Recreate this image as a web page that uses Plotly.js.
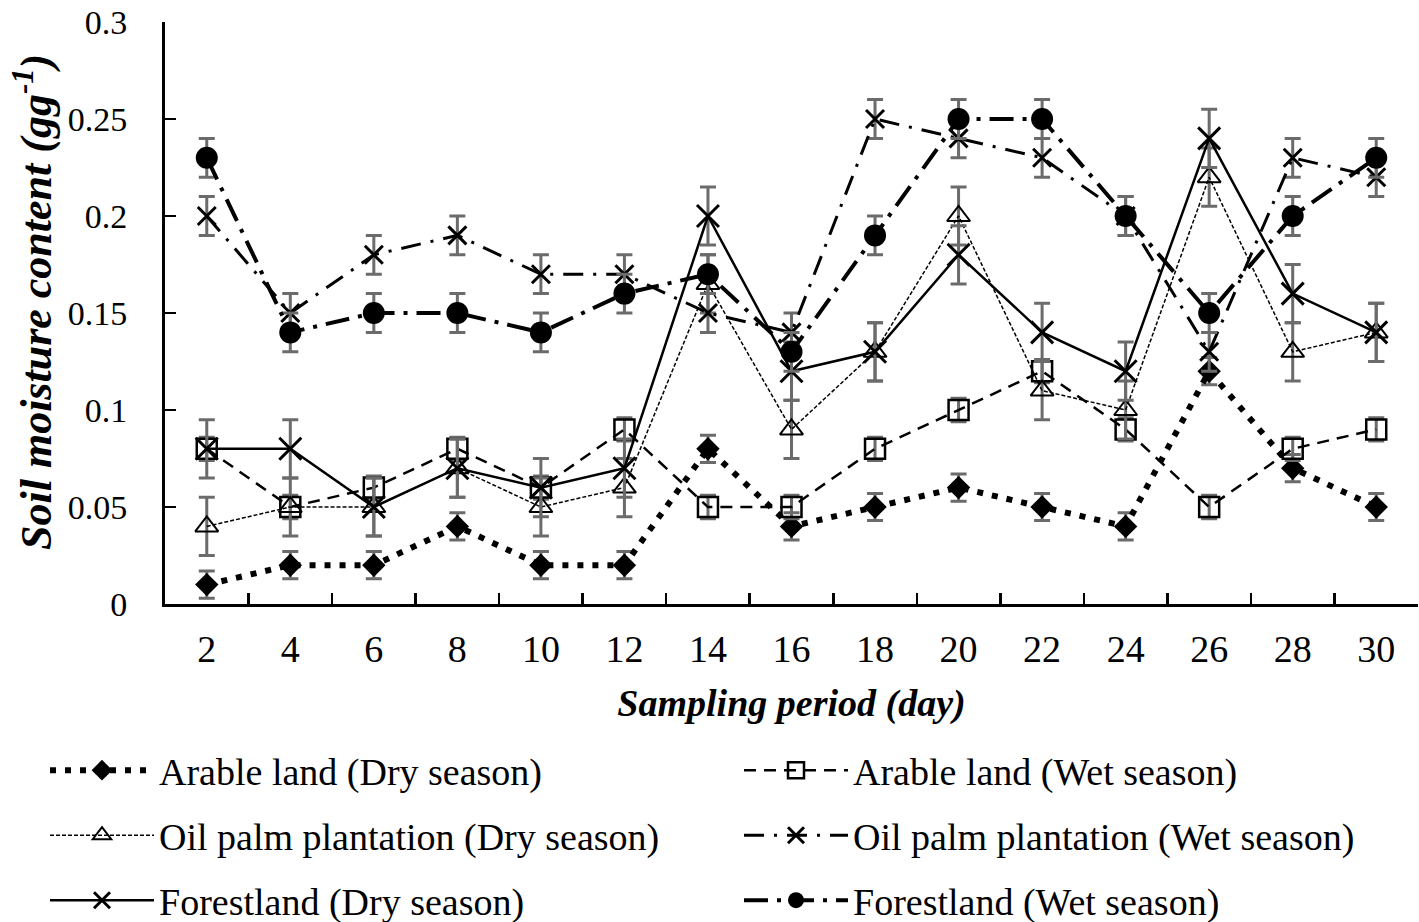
<!DOCTYPE html>
<html>
<head>
<meta charset="utf-8">
<script src="https://cdn.plot.ly/plotly-3.0.1.min.js"></script>
<style>
  html, body { margin: 0; padding: 0; background: #fff; }
  #chart { width: 1419px; height: 922px; }
</style>
</head>
<body>
<div id="chart"></div>
<script>
// ---- Data ----
const days = ['2','4','6','8','10','12','14','16','18','20','22','24','26','28','30'];

const yTickVals = [0, 0.05, 0.1, 0.15, 0.2, 0.25, 0.3];
const yTickText = ['0', '0.05', '0.1', '0.15', '0.2', '0.25', '0.3'];

const arableDry = [0.01,0.02,0.02,0.04,0.02,0.02,0.08,0.04,0.05,0.06,0.05,0.04,0.12,0.07,0.05];
const arableDryErr = [0.007,0.007,0.007,0.007,0.007,0.007,0.007,0.007,0.007,0.007,0.007,0.007,0.007,0.007,0.007];

const arableWet = [0.08,0.05,0.06,0.08,0.06,0.09,0.05,0.05,0.08,0.10,0.12,0.09,0.05,0.08,0.09];
const arableWetErr = [0.006,0.006,0.006,0.006,0.006,0.006,0.006,0.006,0.006,0.006,0.006,0.006,0.006,0.006,0.006];

const oilDry = [0.04,0.05,0.05,0.07,0.05,0.06,0.165,0.09,0.13,0.20,0.11,0.10,0.22,0.13,0.14];
const oilDryErr = [0.015,0.015,0.015,0.015,0.015,0.015,0.015,0.015,0.015,0.015,0.015,0.015,0.015,0.015,0.015];

const oilWet = [0.20,0.15,0.18,0.19,0.17,0.17,0.15,0.14,0.25,0.24,0.23,0.20,0.13,0.23,0.22];
const oilWetErr = [0.01,0.01,0.01,0.01,0.01,0.01,0.01,0.01,0.01,0.01,0.01,0.01,0.01,0.01,0.01];

const forestDry = [0.08,0.08,0.05,0.07,0.06,0.07,0.20,0.12,0.13,0.18,0.14,0.12,0.24,0.16,0.14];
const forestDryErr = [0.015,0.015,0.015,0.015,0.015,0.015,0.015,0.015,0.015,0.015,0.015,0.015,0.015,0.015,0.015];

const forestWet = [0.23,0.14,0.15,0.15,0.14,0.16,0.17,0.13,0.19,0.25,0.25,0.20,0.15,0.20,0.23];
const forestWetErr = [0.01,0.01,0.01,0.01,0.01,0.01,0.01,0.01,0.01,0.01,0.01,0.01,0.01,0.01,0.01];

const seriesNames = [
  'Arable land (Dry season)',
  'Arable land (Wet season)',
  'Oil palm plantation (Dry season)',
  'Oil palm plantation (Wet season)',
  'Forestland (Dry season)',
  'Forestland (Wet season)'
];

const yTitle = '<b><i>Soil moisture content (gg<sup>-1</sup>)</i></b>';
const xTitle = '<b><i>Sampling period (day)</i></b>';

// ---- Styling ----
const FONT = 'Liberation Serif, Times New Roman, serif';
const ERR_COLOR = '#6b6b6b';

function errBar(arr) {
  return { type: 'data', array: arr, visible: true, color: ERR_COLOR, thickness: 3, width: 8 };
}

const traces = [
  {
    x: days, y: arableDry, name: seriesNames[0], legend: 'legend',
    type: 'scatter', mode: 'lines+markers',
    line: { color: '#000', width: 6, dash: '6px,9px' },
    marker: { symbol: 'diamond', size: 18, color: '#000', line: { width: 0 } },
    error_y: errBar(arableDryErr)
  },
  {
    x: days, y: arableWet, name: seriesNames[1], legend: 'legend2',
    type: 'scatter', mode: 'lines+markers',
    line: { color: '#000', width: 2.5, dash: '12px,8px' },
    marker: { symbol: 'square-open', size: 20, color: '#000', line: { width: 2.5, color: '#000' } },
    error_y: errBar(arableWetErr)
  },
  {
    x: days, y: oilDry, name: seriesNames[2], legend: 'legend3',
    type: 'scatter', mode: 'lines+markers',
    line: { color: '#000', width: 1.5, dash: '4px,2px' },
    marker: { symbol: 'triangle-up-open', size: 20, color: '#000', line: { width: 2, color: '#000' } },
    error_y: errBar(oilDryErr)
  },
  {
    x: days, y: oilWet, name: seriesNames[3], legend: 'legend4',
    type: 'scatter', mode: 'lines+markers',
    line: { color: '#000', width: 3, dash: '20px,10px,3px,10px' },
    marker: { symbol: 'x-thin-open', size: 18, color: '#000', line: { width: 3, color: '#000' } },
    error_y: errBar(oilWetErr)
  },
  {
    x: days, y: forestDry, name: seriesNames[4], legend: 'legend5',
    type: 'scatter', mode: 'lines+markers',
    line: { color: '#000', width: 2.5 },
    marker: { symbol: 'x-thin-open', size: 22, color: '#000', line: { width: 3, color: '#000' } },
    error_y: errBar(forestDryErr)
  },
  {
    x: days, y: forestWet, name: seriesNames[5], legend: 'legend6',
    type: 'scatter', mode: 'lines+markers',
    line: { color: '#000', width: 4, dash: '24px,9px,4px,9px' },
    marker: { symbol: 'circle', size: 22, color: '#000', line: { width: 0 } },
    error_y: errBar(forestWetErr)
  }
];

function legendCfg(xLeft, yTop) {
  return {
    orientation: 'v',
    xref: 'container', yref: 'container',
    x: xLeft / 1419, y: 1 - yTop / 922,
    xanchor: 'left', yanchor: 'top',
    itemwidth: 104,
    font: { family: FONT, size: 38, color: '#000' },
    bgcolor: 'rgba(0,0,0,0)'
  };
}

const layout = {
  width: 1419, height: 922,
  paper_bgcolor: '#fff', plot_bgcolor: '#fff',
  margin: { l: 165, r: 1, t: 22, b: 318, pad: 0, autoexpand: false },
  font: { family: FONT, color: '#000' },
  showlegend: true,
  xaxis: {
    type: 'category',
    range: [-0.5, 14.5],
    automargin: true,
    showline: true, linecolor: '#000', linewidth: 3,
    ticks: 'inside', tickson: 'boundaries', ticklen: 11, tickwidth: 2.5, tickcolor: '#000',
    showgrid: false, zeroline: false,
    tickfont: { family: FONT, size: 38, color: '#000' },
    ticklabelstandoff: 9,
    title: { text: xTitle, font: { family: FONT, size: 38, color: '#000' }, standoff: 21 }
  },
  yaxis: {
    range: [0, 0.3000001],
    automargin: true,
    tickmode: 'array', tickvals: yTickVals, ticktext: yTickText,
    showline: true, linecolor: '#000', linewidth: 3,
    ticks: 'inside', ticklen: 11, tickwidth: 2.5, tickcolor: '#000',
    showgrid: false, zeroline: false,
    tickfont: { family: FONT, size: 34, color: '#000' },
    ticklabelstandoff: 28
  },
  annotations: [{
    text: yTitle,
    xref: 'paper', yref: 'paper',
    x: (33 - 165) / 1253, y: (604 - 302) / 582,
    xanchor: 'center', yanchor: 'middle',
    textangle: -90, showarrow: false,
    font: { family: FONT, size: 44, color: '#000' }
  }],
  legend:  legendCfg(45, 739),
  legend2: legendCfg(739, 739),
  legend3: legendCfg(45, 804),
  legend4: legendCfg(739, 804),
  legend5: legendCfg(45, 869),
  legend6: legendCfg(739, 869)
};

Plotly.newPlot('chart', traces, layout, { staticPlot: true, displayModeBar: false });
</script>
</body>
</html>
